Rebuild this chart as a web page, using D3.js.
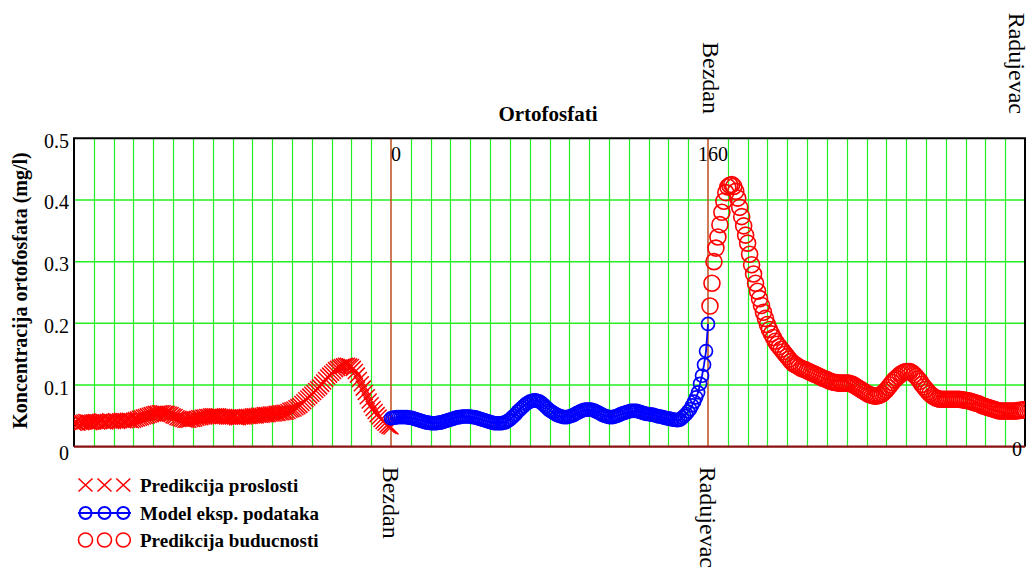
<!DOCTYPE html>
<html><head><meta charset="utf-8">
<script src="https://cdn.jsdelivr.net/npm/d3@7"></script>
<style>body{margin:0;background:#fff} svg{display:block}</style>
</head><body>
<svg id="c" width="1034" height="576"></svg>
<script>
// ---- data ----
const chartTitle = "Ortofosfati";
const yAxisTitle = "Koncentracija ortofosfata (mg/l)";
const yTicks = [0, 0.1, 0.2, 0.3, 0.4, 0.5];
const yTickLabels = ["0", "0.1", "0.2", "0.3", "0.4", "0.5"];
const xDomain = [-160, 320];
const markerX = [0, 160];
const markerXLabels = ["0", "160"];
const markerYLabel = "0";
const topNames = ["Bezdan", "Radujevac"];      // at x = 160, 320
const topNamePos = [160, 320];
const bottomNames = ["Bezdan", "Radujevac"];   // at x = 0, 160
const bottomNamePos = [0, 160];
const seriesNames = ["Predikcija proslosti", "Model eksp. podataka", "Predikcija buducnosti"];
const pastStart = -160, modelStart = 0, futureStart = 161;

const pastY = [
0.038,0.039,0.038,0.040,0.039,0.040,0.041,0.040,0.039,0.040,
0.040,0.041,0.040,0.041,0.042,0.041,0.040,0.041,0.042,0.041,
0.041,0.042,0.041,0.042,0.043,0.042,0.042,0.043,0.043,0.042,
0.043,0.044,0.045,0.046,0.047,0.048,0.049,0.050,0.051,0.052,
0.053,0.054,0.054,0.055,0.055,0.055,0.054,0.054,0.053,0.052,
0.050,0.049,0.047,0.046,0.045,0.044,0.043,0.043,0.043,0.044,
0.044,0.045,0.046,0.047,0.047,0.048,0.048,0.049,0.049,0.050,
0.050,0.050,0.050,0.050,0.049,0.049,0.049,0.048,0.048,0.048,
0.048,0.048,0.047,0.047,0.048,0.048,0.048,0.049,0.049,0.049,
0.050,0.050,0.050,0.051,0.051,0.051,0.052,0.052,0.052,0.053,
0.053,0.053,0.054,0.054,0.055,0.055,0.056,0.056,0.057,0.059,
0.060,0.061,0.063,0.065,0.067,0.070,0.073,0.076,0.079,0.082,
0.085,0.088,0.091,0.094,0.097,0.101,0.105,0.109,0.113,0.116,
0.119,0.122,0.125,0.127,0.129,0.130,0.131,0.132,0.132,0.131,
0.130,0.127,0.122,0.116,0.109,0.102,0.095,0.088,0.081,0.074,
0.068,0.062,0.057,0.052,0.048,0.044,0.041,0.038,0.035,0.033,
0.032];

const modelY = [
0.046,0.047,0.047,0.048,0.048,0.048,0.048,0.048,0.048,0.047,
0.047,0.046,0.045,0.044,0.043,0.042,0.041,0.040,0.039,0.039,
0.038,0.038,0.038,0.038,0.039,0.039,0.040,0.041,0.042,0.043,
0.044,0.045,0.046,0.047,0.048,0.048,0.049,0.049,0.049,0.049,
0.049,0.048,0.048,0.047,0.046,0.045,0.044,0.043,0.042,0.041,
0.040,0.039,0.038,0.038,0.038,0.038,0.038,0.039,0.040,0.042,
0.044,0.047,0.050,0.053,0.057,0.060,0.063,0.066,0.069,0.071,
0.073,0.074,0.075,0.075,0.074,0.073,0.071,0.068,0.065,0.062,
0.059,0.057,0.055,0.053,0.051,0.050,0.049,0.048,0.048,0.048,
0.049,0.050,0.051,0.053,0.055,0.056,0.058,0.059,0.060,0.060,
0.060,0.060,0.059,0.058,0.056,0.055,0.053,0.051,0.050,0.049,
0.048,0.048,0.048,0.049,0.050,0.051,0.053,0.054,0.055,0.056,
0.057,0.058,0.058,0.058,0.058,0.057,0.056,0.055,0.054,0.053,
0.053,0.052,0.052,0.051,0.050,0.049,0.049,0.048,0.047,0.046,
0.046,0.045,0.044,0.044,0.043,0.043,0.044,0.047,0.050,0.053,
0.057,0.061,0.067,0.073,0.080,0.088,0.102,0.115,0.133,0.155,
0.199];

const futureY = [
0.228,0.265,0.300,0.322,0.340,0.360,0.380,0.398,0.412,0.421,
0.424,0.425,0.422,0.414,0.403,0.388,0.373,0.358,0.343,0.330,
0.312,0.295,0.280,0.265,0.252,0.240,0.229,0.218,0.208,0.198,
0.190,0.183,0.177,0.171,0.166,0.162,0.158,0.154,0.150,0.146,
0.142,0.138,0.135,0.133,0.131,0.129,0.127,0.126,0.125,0.123,
0.122,0.120,0.119,0.117,0.116,0.114,0.113,0.111,0.110,0.109,
0.107,0.106,0.105,0.104,0.104,0.103,0.103,0.103,0.103,0.103,
0.103,0.102,0.101,0.099,0.097,0.095,0.093,0.091,0.089,0.087,
0.085,0.084,0.083,0.082,0.082,0.083,0.084,0.086,0.089,0.092,
0.096,0.100,0.104,0.108,0.111,0.114,0.117,0.119,0.121,0.122,
0.122,0.122,0.120,0.117,0.114,0.110,0.106,0.101,0.097,0.093,
0.089,0.086,0.083,0.081,0.079,0.078,0.077,0.077,0.077,0.077,
0.077,0.077,0.077,0.077,0.077,0.077,0.077,0.076,0.076,0.075,
0.075,0.074,0.073,0.072,0.071,0.070,0.069,0.067,0.066,0.065,
0.064,0.063,0.062,0.061,0.060,0.059,0.058,0.058,0.058,0.058,
0.058,0.058,0.058,0.058,0.058,0.058,0.059,0.059,0.060,0.060];

// ---- drawing ----
const FONT = "'Liberation Serif','Times New Roman',serif";
const svg = d3.select("#c");
const L = 74, R = 1025, T = 138.3, B = 446.7;
const x = d3.scaleLinear().domain(xDomain).range([L, R]);
const y = d3.scaleLinear().domain([0, 0.5]).range([B, T]);

const toPts = (arr, start) => arr.map((v, i) => ({u: start + i, v}));
const past = toPts(pastY, pastStart);
const model = toPts(modelY, modelStart);
const future = toPts(futureY, futureStart);

svg.append("defs").append("clipPath").attr("id", "plotclip")
  .append("rect").attr("x", L).attr("y", T).attr("width", R - L).attr("height", B - T);

// grid
const gridX = d3.range(xDomain[0] + 10, xDomain[1], 10).filter(d => !markerX.includes(d));
svg.append("g").selectAll("line").data(gridX).join("line")
  .attr("x1", d => Math.round(x(d)) + 0.5).attr("x2", d => Math.round(x(d)) + 0.5)
  .attr("y1", T).attr("y2", B)
  .attr("stroke", "#22ee22").attr("stroke-width", 1.2);
svg.append("g").selectAll("line").data(yTicks.filter(d => d > 0 && d < 0.5)).join("line")
  .attr("x1", L).attr("x2", R)
  .attr("y1", d => y(d)).attr("y2", d => y(d))
  .attr("stroke", "#22ee22").attr("stroke-width", 1.5);

// marker lines
svg.append("g").selectAll("line").data(markerX).join("line")
  .attr("x1", d => x(d)).attr("x2", d => x(d)).attr("y1", T).attr("y2", B)
  .attr("stroke", "#c0582a").attr("stroke-width", 1.6);

// frame
svg.append("path").attr("d", `M${L},${B}V${T}H${R}V${B}`)
  .attr("fill", "none").attr("stroke", "#000").attr("stroke-width", 2);
svg.append("line").attr("x1", L).attr("x2", R).attr("y1", B).attr("y2", B)
  .attr("stroke", "#8b1212").attr("stroke-width", 2.2);

// series
const plot = svg.append("g").attr("clip-path", "url(#plotclip)");
const xs = 7.5;
plot.append("g").selectAll("path").data(past).join("path")
  .attr("d", d => { const cx = x(d.u), cy = y(d.v);
    return `M${cx - xs},${cy - xs}L${cx + xs},${cy + xs}M${cx - xs},${cy + xs}L${cx + xs},${cy - xs}`; })
  .attr("stroke", "#ff0000").attr("stroke-width", 1.5).attr("fill", "none");

plot.append("path").datum(model)
  .attr("d", d3.line().x(d => x(d.u)).y(d => y(d.v)))
  .attr("fill", "none").attr("stroke", "#0000ff").attr("stroke-width", 1.8);
plot.append("g").selectAll("circle").data(model).join("circle")
  .attr("cx", d => x(d.u)).attr("cy", d => y(d.v)).attr("r", 6.5)
  .attr("fill", "none").attr("stroke", "#0000ff").attr("stroke-width", 1.7);

plot.append("g").selectAll("circle").data(future).join("circle")
  .attr("cx", d => x(d.u)).attr("cy", d => y(d.v)).attr("r", 8)
  .attr("fill", "none").attr("stroke", "#ff0000").attr("stroke-width", 1.6);

// y axis ticks
const yAxis = d3.axisLeft(y).tickValues(yTicks)
  .tickFormat((d, i) => yTickLabels[i]).tickSize(0).tickPadding(3);
const ya = svg.append("g").attr("transform", `translate(${L - 2},0)`).call(yAxis);
ya.select(".domain").remove();
ya.selectAll("text").attr("font-family", FONT).attr("font-size", 20).attr("fill", "#000")
  .attr("dy", d => d === 0 ? "0.62em" : "0.45em");

// marker value labels
svg.append("g").selectAll("text").data(markerX).join("text")
  .attr("x", (d, i) => x(d) + (i === 0 ? 0 : -10)).attr("y", 161)
  .attr("font-family", FONT).attr("font-size", 20).text((d, i) => markerXLabels[i]);
svg.append("text").attr("x", R - 3).attr("y", 456).attr("text-anchor", "end")
  .attr("font-family", FONT).attr("font-size", 20).text(markerYLabel);

// rotated names
svg.append("g").selectAll("text").data(topNames).join("text")
  .attr("transform", (d, i) => `translate(${Math.min(x(topNamePos[i]) - 5, R - 16)},114) rotate(90)`)
  .attr("text-anchor", "end").attr("font-family", FONT).attr("font-size", 24).text(d => d);
svg.append("g").selectAll("text").data(bottomNames).join("text")
  .attr("transform", (d, i) => `translate(${x(bottomNamePos[i]) - 8},${B + 20}) rotate(90)`)
  .attr("text-anchor", "start").attr("font-family", FONT).attr("font-size", 24).text(d => d);

// titles
svg.append("text").attr("x", 548).attr("y", 121).attr("text-anchor", "middle")
  .attr("font-family", FONT).attr("font-weight", "bold").attr("font-size", 21).text(chartTitle);
svg.append("text").attr("transform", `translate(27,${(T + B) / 2 - 2}) rotate(-90)`)
  .attr("text-anchor", "middle").attr("font-family", FONT).attr("font-weight", "bold")
  .attr("font-size", 20).text(yAxisTitle);

// legend
const lg = svg.append("g");
const lx = [85.5, 104.5, 123.3];
const rowY = [485, 513, 540];
lx.forEach(cx => {
  lg.append("path").attr("d", `M${cx - 7},${rowY[0] - 6.5}L${cx + 7},${rowY[0] + 6.5}M${cx - 7},${rowY[0] + 6.5}L${cx + 7},${rowY[0] - 6.5}`)
    .attr("stroke", "#ff0000").attr("stroke-width", 1.6).attr("fill", "none");
});
lg.append("line").attr("x1", 78).attr("x2", 131).attr("y1", rowY[1]).attr("y2", rowY[1])
  .attr("stroke", "#0000ff").attr("stroke-width", 2.2);
lx.forEach(cx => {
  lg.append("circle").attr("cx", cx).attr("cy", rowY[1]).attr("r", 6)
    .attr("fill", "none").attr("stroke", "#0000ff").attr("stroke-width", 2);
  lg.append("circle").attr("cx", cx).attr("cy", rowY[2]).attr("r", 7)
    .attr("fill", "none").attr("stroke", "#ff0000").attr("stroke-width", 1.6);
});
lg.selectAll("text").data(seriesNames).join("text")
  .attr("x", 140).attr("y", (d, i) => rowY[i] + 6.5)
  .attr("font-family", FONT).attr("font-weight", "bold").attr("font-size", 19).text(d => d);
</script>
</body></html>
